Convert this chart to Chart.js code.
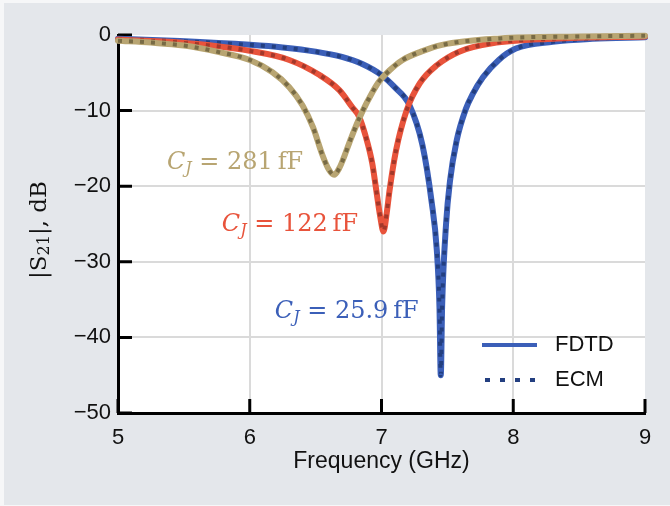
<!DOCTYPE html>
<html lang="en">
  <head>
    <meta charset="UTF-8" />
    <title>|S21| vs frequency</title>
    <script src="https://cdn.jsdelivr.net/npm/chart.js"></script>
    <style>
      body {
        margin: 0;
        background: #f6f7f8;
      }
      .wrap {
        position: absolute;
        left: 4px;
        top: 3px;
        width: 666px;
        height: 502px;
      }
    </style>
  </head>
  <body>
    <div class="wrap">
      <canvas id="myChart" width="666" height="502"></canvas>
    </div>

    <script>
      // values (GHz, dB)
      const freq281 = [5.0, 5.25, 5.5, 5.75, 6.0, 6.17, 6.3, 6.4, 6.48, 6.55, 6.6, 6.64, 6.68, 6.71, 6.77, 6.85, 6.93, 6.98, 7.06, 7.16, 7.3, 7.46, 7.9, 8.5, 9.0];
      const s21_281 = [-0.75, -1.0, -1.4, -2.2, -3.3, -4.9, -6.9, -9.3, -12.2, -15.8, -17.8, -18.5, -17.6, -16.4, -13.6, -10.3, -7.6, -6.2, -4.7, -3.3, -2.2, -1.3, -0.45, -0.2, -0.1];

      const freq122 = [5.0, 5.47, 6.0, 6.3, 6.53, 6.68, 6.78, 6.83, 6.88, 6.93, 6.96, 6.99, 7.015, 7.04, 7.06, 7.11, 7.19, 7.29, 7.42, 7.59, 7.84, 8.3, 9.0];
      const s21_122 = [-0.6, -1.0, -2.1, -3.3, -5.3, -7.3, -9.6, -10.8, -13.4, -17, -20.5, -24, -26, -23.5, -20.7, -15.3, -10, -6.4, -4.0, -2.2, -1.1, -0.5, -0.2];

      const freq259 = [5.0, 5.47, 6.0, 6.25, 6.5, 6.7, 6.85, 7.0, 7.1, 7.21, 7.31, 7.38, 7.42, 7.44, 7.45, 7.46, 7.49, 7.52, 7.57, 7.64, 7.69, 7.77, 7.89, 8.02, 8.3, 8.6, 9.0];
      const s21_259 = [-0.5, -0.8, -1.3, -1.65, -2.2, -2.9, -3.8, -5.3, -6.9, -9.2, -14.5, -22, -28.5, -36, -45, -36, -25, -19.3, -14, -9.8, -7.9, -5.6, -3.3, -1.8, -0.9, -0.5, -0.3];

      const xTicks = [5, 6, 7, 8, 9];
      const yTicks = [0, -10, -20, -30, -40, -50];

      const toPts = (xs, ys) => xs.map((x, i) => ({ x: x, y: ys[i] }));

      const colBlue = "#3b5fb8", colBlueDk = "#233f80";
      const colRed = "#e8533b", colRedDk = "#a3382a";
      const colGold = "#b8a572", colGoldDk = "#786b45";

      function solid(pts, c) {
        return { data: pts, borderColor: c, borderWidth: 6, pointRadius: 0, clip: false,
          cubicInterpolationMode: "monotone", borderCapStyle: "round", borderJoinStyle: "round" };
      }
      function dotted(pts, c) {
        return { data: pts, borderColor: c, borderWidth: 4, borderDash: [4, 7], pointRadius: 0, clip: false,
          cubicInterpolationMode: "monotone" };
      }

      // text labels next to each dip, anchored in data coordinates
      const notes = [
        { x: 5.371, y: -16.9, val: "281", color: colGold },
        { x: 5.788, y: -25.1, val: "122", color: colRed },
        { x: 6.19, y: -36.6, val: "25.9", color: colBlue },
      ];

      function drawRich(ctx, x, y, parts) {
        ctx.textBaseline = "middle";
        ctx.textAlign = "left";
        parts.forEach((p) => {
          ctx.font = p.font;
          ctx.fillText(p.t, x, y + (p.dy || 0));
          x += ctx.measureText(p.t).width;
        });
      }

      const decor = {
        id: "decor",
        beforeDraw(chart) {
          const { ctx, chartArea: a } = chart;
          ctx.save();
          ctx.fillStyle = "#e4e7eb";
          ctx.fillRect(0, 0, chart.width, chart.height);
          ctx.fillStyle = "#fff";
          ctx.fillRect(a.left, a.top, a.right - a.left, a.bottom - a.top);
          ctx.restore();
        },
        beforeDatasetsDraw(chart) {
          // inward tick marks
          const { ctx, chartArea: a, scales } = chart;
          ctx.save();
          ctx.strokeStyle = "#000";
          ctx.lineWidth = 3;
          ctx.beginPath();
          xTicks.forEach((v) => {
            const px = scales.x.getPixelForValue(v);
            ctx.moveTo(px, a.bottom);
            ctx.lineTo(px, a.bottom - 14);
          });
          yTicks.forEach((v) => {
            const py = scales.y.getPixelForValue(v);
            ctx.moveTo(a.left, py);
            ctx.lineTo(a.left + 14, py);
          });
          ctx.stroke();
          ctx.restore();
        },
        afterDraw(chart) {
          const { ctx, chartArea: a, scales } = chart;
          ctx.save();

          // legend
          const lx = a.right - 163, lw = 55;
          const r1 = a.bottom - 68, r2 = a.bottom - 33;
          ctx.lineWidth = 4;
          ctx.strokeStyle = colBlue;
          ctx.beginPath();
          ctx.moveTo(lx, r1);
          ctx.lineTo(lx + lw, r1);
          ctx.stroke();
          ctx.strokeStyle = colBlueDk;
          ctx.setLineDash([5, 10]);
          ctx.beginPath();
          ctx.moveTo(lx + 3, r2);
          ctx.lineTo(lx + lw, r2);
          ctx.stroke();
          ctx.setLineDash([]);
          ctx.fillStyle = "#111";
          ctx.font = '22px "Liberation Sans", Arial, sans-serif';
          ctx.textBaseline = "middle";
          ctx.fillText("FDTD", a.right - 90, r1);
          ctx.fillText("ECM", a.right - 90, r2);

          // C_J labels
          const serif = '"DejaVu Serif", serif';
          notes.forEach((n) => {
            ctx.fillStyle = n.color;
            drawRich(ctx, scales.x.getPixelForValue(n.x), scales.y.getPixelForValue(n.y), [
              { t: "C", font: "italic 24px " + serif },
              { t: "J", font: "italic 16px " + serif, dy: 6 },
              { t: " = " + n.val + "\u2009fF", font: "24px " + serif },
            ]);
          });

          // y axis title |S21|, dB
          ctx.translate(36, (a.top + a.bottom) / 2 + 6);
          ctx.rotate(-Math.PI / 2);
          ctx.fillStyle = "#111";
          const parts = [
            { t: "|S", font: "23px " + serif },
            { t: "21", font: "16px " + serif, dy: 5 },
            { t: "|, dB", font: "23px " + serif },
          ];
          let w = 0;
          parts.forEach((p) => { ctx.font = p.font; w += ctx.measureText(p.t).width; });
          drawRich(ctx, -w / 2, 0, parts);
          ctx.restore();
        },
      };

      const gridCol = (lo, hi) => (c) =>
        c.tick && (c.tick.value === lo || c.tick.value === hi) ? "rgba(0,0,0,0)" : "#dadada";

      const sans = { family: '"Liberation Sans", Arial, sans-serif', size: 22 };

      new Chart(document.getElementById("myChart"), {
        type: "line",
        data: {
          datasets: [
            dotted(toPts(freq281, s21_281), colGoldDk),
            solid(toPts(freq281, s21_281), colGold),
            dotted(toPts(freq122, s21_122), colRedDk),
            solid(toPts(freq122, s21_122), colRed),
            dotted(toPts(freq259, s21_259), colBlueDk),
            solid(toPts(freq259, s21_259), colBlue),
          ],
        },
        options: {
          responsive: false,
          animation: false,
          devicePixelRatio: 1,
          layout: { padding: { top: 32, right: 25, left: 0, bottom: 0 } },
          plugins: { legend: { display: false }, tooltip: { enabled: false } },
          scales: {
            x: {
              type: "linear",
              min: 5,
              max: 9,
              afterFit: (s) => { s.height = 92; },
              afterBuildTicks: (s) => { s.ticks = xTicks.map((v) => ({ value: v })); },
              ticks: { color: "#111", font: sans, padding: 12 },
              grid: { drawTicks: false, color: gridCol(5, 9), lineWidth: 2 },
              border: { display: true, color: "#000", width: 3 },
              title: {
                display: true,
                text: "Frequency (GHz)",
                color: "#111",
                font: { family: sans.family, size: 23 },
                padding: { top: 0, bottom: 30 },
              },
            },
            y: {
              type: "linear",
              min: -50,
              max: 0,
              afterFit: (s) => { s.width = 114; },
              afterBuildTicks: (s) => { s.ticks = yTicks.map((v) => ({ value: v })); },
              ticks: {
                color: "#111",
                font: sans,
                padding: 7,
                callback: (v) => (v < 0 ? "\u2212" + Math.abs(v) : String(v)),
              },
              grid: { drawTicks: false, color: gridCol(-50, 0), lineWidth: 2 },
              border: { display: true, color: "#000", width: 3 },
            },
          },
        },
        plugins: [decor],
      });
    </script>
  </body>
</html>
